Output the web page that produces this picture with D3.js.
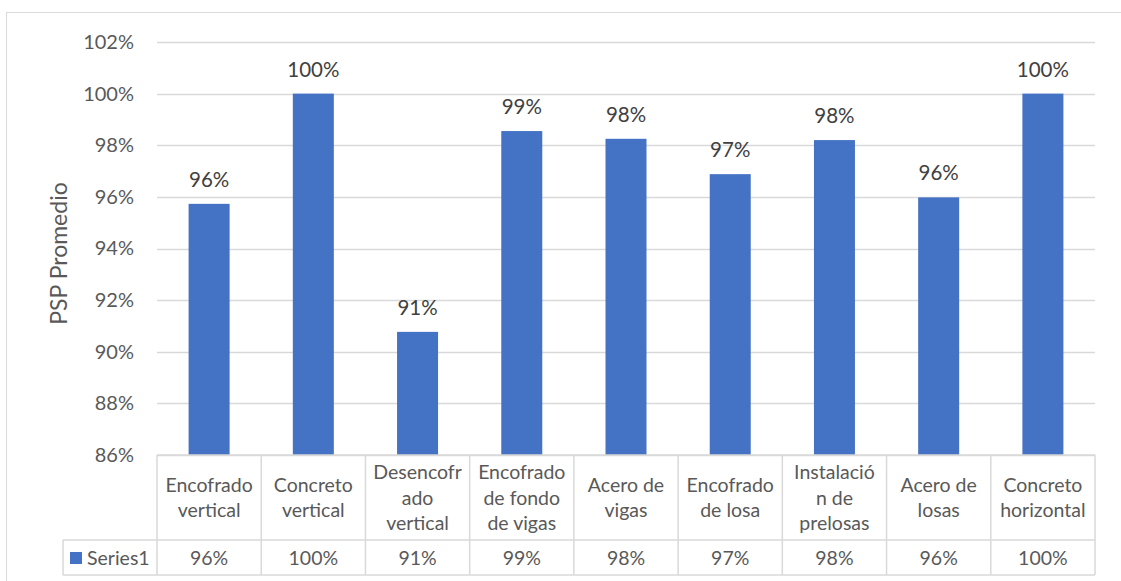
<!DOCTYPE html>
<html><head><meta charset="utf-8">
<script src="https://cdn.jsdelivr.net/npm/d3@7"></script>
<style>body{margin:0;background:#fff;} text{font-family:Lato,"Open Sans",sans-serif;}</style>
</head><body><svg id="c" width="1121" height="581"></svg>
<script>
const categories = [
  ["Encofrado","vertical"],
  ["Concreto","vertical"],
  ["Desencofr","ado","vertical"],
  ["Encofrado","de fondo","de vigas"],
  ["Acero de","vigas"],
  ["Encofrado","de losa"],
  ["Instalació","n de","prelosas"],
  ["Acero de","losas"],
  ["Concreto","horizontal"]
];
const values = [95.73, 100, 90.77, 98.55, 98.25, 96.88, 98.2, 95.98, 100];
const yTicks = [86, 88, 90, 92, 94, 96, 98, 100, 102];
const seriesName = "Series1";

const svg = d3.select("#c");
const L = 157, R = 1095, T = 42, B = 455;
const rowSep = 540, tableBottom = 575, legendLeft = 63;
const grid = "#d9d9d9", textCol = "#595959", bar = "#4472c4";

svg.append("rect").attr("x",6.5).attr("y",12.5).attr("width",1121).attr("height",600)
  .attr("fill","none").attr("stroke",grid);

const x = d3.scaleBand().domain(d3.range(categories.length)).range([L,R]).paddingInner(0).paddingOuter(0);
const y = d3.scaleLinear().domain([86,102]).range([B,T]);

svg.append("g").selectAll("line").data(yTicks).join("line")
  .attr("x1",L).attr("x2",R).attr("y1",d=>Math.round(y(d))+0.5).attr("y2",d=>Math.round(y(d))+0.5)
  .attr("stroke",grid).attr("stroke-width",1.5);

const yAxis = d3.axisLeft(y).tickValues(yTicks).tickFormat(d=>d+"%").tickSize(0).tickPadding(0);
const ga = svg.append("g").attr("transform",`translate(${L-23},0)`).call(yAxis);
ga.select(".domain").remove();
ga.selectAll("text").attr("fill",textCol).attr("font-size",20).attr("font-family","Lato,sans-serif");

svg.append("text").attr("transform",`translate(67,${(T+B)/2+5}) rotate(-90)`)
  .attr("text-anchor","middle").attr("fill",textCol).attr("font-size",23).text("PSP Promedio");

const bw = 41;
svg.append("g").selectAll("rect").data(values).join("rect")
  .attr("x",(d,i)=>x(i)+x.bandwidth()/2-bw/2).attr("width",bw)
  .attr("y",d=>y(d)).attr("height",d=>B-y(d)).attr("fill",bar);

svg.append("g").selectAll("text").data(values).join("text")
  .attr("x",(d,i)=>x(i)+x.bandwidth()/2).attr("y",d=>y(d)-17)
  .attr("text-anchor","middle").attr("fill","#404040").attr("font-size",20.5)
  .text(d=>Math.round(d)+"%");

const tl = svg.append("g").attr("stroke",grid).attr("stroke-width",1.5);
tl.append("line").attr("x1",L).attr("x2",R).attr("y1",B).attr("y2",B);
tl.append("line").attr("x1",legendLeft).attr("x2",R).attr("y1",rowSep).attr("y2",rowSep);
tl.append("line").attr("x1",legendLeft).attr("x2",R).attr("y1",tableBottom).attr("y2",tableBottom);
tl.append("line").attr("x1",legendLeft).attr("x2",legendLeft).attr("y1",rowSep).attr("y2",tableBottom);
const bounds = d3.range(categories.length+1).map(i=> i<categories.length ? x(i) : R);
tl.selectAll(".v").data(bounds).join("line")
  .attr("x1",d=>d).attr("x2",d=>d).attr("y1",B).attr("y2",tableBottom);

const lh = 25.5, cy = (B+rowSep)/2;
categories.forEach((lines,i)=>{
  const t = svg.append("text").attr("text-anchor","middle").attr("fill",textCol).attr("font-size",19.5);
  lines.forEach((s,j)=>{
    t.append("tspan").attr("x",x(i)+x.bandwidth()/2)
      .attr("y",cy + (j-(lines.length-1)/2)*lh + 7).text(s);
  });
});

svg.append("g").selectAll("text").data(values).join("text")
  .attr("x",(d,i)=>x(i)+x.bandwidth()/2).attr("y",(rowSep+tableBottom)/2+7)
  .attr("text-anchor","middle").attr("fill",textCol).attr("font-size",19.5)
  .text(d=>Math.round(d)+"%");

svg.append("rect").attr("x",70).attr("y",552).attr("width",12).attr("height",12).attr("fill",bar);
svg.append("text").attr("x",87).attr("y",(rowSep+tableBottom)/2+7).attr("fill",textCol)
  .attr("font-size",19.5).text(seriesName);
</script></body></html>
